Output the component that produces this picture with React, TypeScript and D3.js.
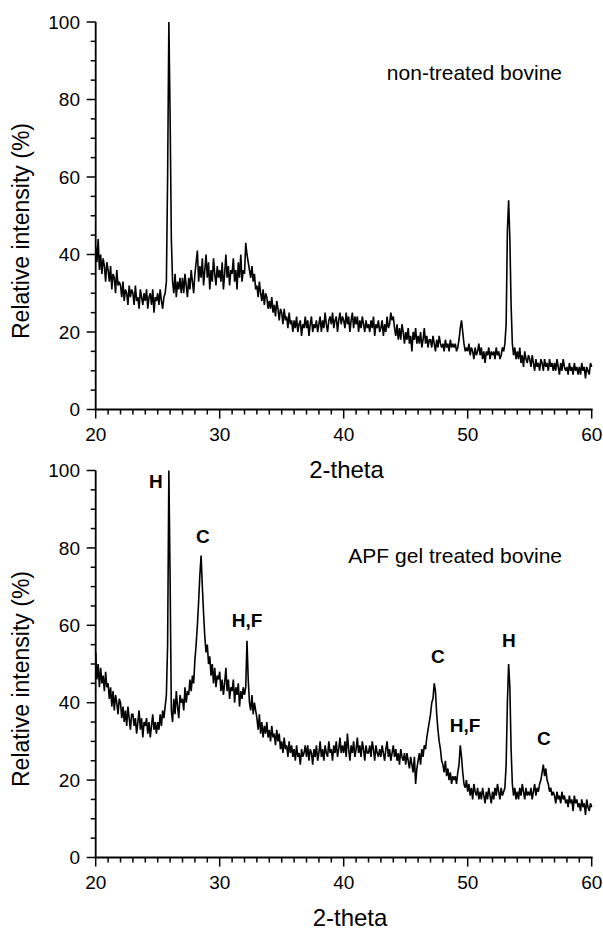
import React from 'react';
import * as d3 from 'd3';

const THETA_START = 20;
const THETA_STEP = 0.1;

// non-treated bovine, relative intensity (%) from 20.0 to 60.0 in 0.1 steps
const nonTreated: number[] = [
  42,38,44,36,40,35,39,37,33,38,
  36,33,37,31,35,34,30,36,32,33,
  32,29,33,28,31,30,27,32,29,31,
  30,27,32,28,29,26,31,29,27,30,
  28,31,26,29,30,27,31,25,29,28,
  30,27,31,28,26,29,30,33,60,100,
  76,44,33,30,35,29,33,31,34,30,
  34,30,35,32,29,34,31,36,33,30,
  35,38,41,33,37,34,39,32,36,40,
  34,38,31,36,33,39,35,32,37,34,
  36,33,38,31,35,40,34,37,32,36,
  35,39,33,36,31,38,34,40,33,36,
  35,43,40,38,36,34,37,33,35,31,
  32,29,33,30,28,31,27,30,29,26,
  28,26,29,25,27,24,28,26,23,26,
  25,22,26,23,24,21,25,22,23,20,
  23,21,24,20,22,23,19,22,21,24,
  21,23,19,22,24,20,22,21,23,20,
  22,24,20,23,21,25,22,20,23,24,
  22,25,21,23,24,20,23,25,22,24,
  23,21,25,22,24,20,23,25,21,24,
  22,24,20,23,21,24,22,20,23,21,
  22,20,23,21,24,19,22,21,23,20,
  21,23,19,22,20,24,21,22,25,23,
  24,21,19,22,18,21,18,22,20,17,
  20,18,21,17,19,15,20,18,21,17,
  19,17,20,16,18,21,17,19,16,18,
  18,16,19,17,15,18,16,19,17,16,
  17,15,18,16,17,15,18,16,17,16,
  17,15,16,18,21,23,20,17,15,16,
  15,17,14,16,15,13,16,14,15,17,
  14,16,13,15,12,15,14,16,13,15,
  14,15,13,16,14,15,13,14,16,15,
  17,22,46,54,44,27,17,14,16,13,
  15,13,16,12,14,11,15,13,12,14,
  13,11,14,12,10,13,11,12,10,13,
  12,10,13,11,12,10,13,11,12,10,
  12,10,13,11,9,12,10,13,11,10,
  11,9,12,10,11,9,12,10,11,9,
  11,9,12,10,11,8,11,10,9,12,
  11,
];

// APF gel treated bovine, relative intensity (%) from 20.0 to 60.0 in 0.1 steps
const apfTreated: number[] = [
  53,46,50,44,49,45,47,43,48,44,
  45,41,44,39,43,38,42,40,37,41,
  40,36,39,35,38,34,39,36,33,37,
  37,34,36,32,35,38,33,36,31,35,
  34,36,32,35,31,34,37,33,35,32,
  35,33,37,34,38,36,39,42,55,100,
  72,38,35,41,37,43,39,36,42,40,
  41,38,44,40,43,42,46,43,47,45,
  51,55,60,66,73,78,70,63,57,53,
  55,50,52,47,50,45,49,44,47,46,
  48,43,46,42,45,49,43,46,41,44,
  43,46,40,44,42,45,39,43,41,44,
  42,44,56,46,40,38,42,37,40,38,
  36,33,37,32,35,31,34,32,35,31,
  33,30,34,31,32,29,33,30,32,28,
  30,27,31,28,29,26,30,27,29,26,
  28,25,29,26,27,24,28,26,27,29,
  26,29,25,28,27,24,28,26,29,25,
  27,30,26,28,25,29,27,26,30,27,
  28,25,29,27,30,26,28,31,27,29,
  27,30,26,32,28,25,29,27,30,26,
  28,31,27,29,26,30,28,25,29,27,
  27,29,26,30,28,25,29,27,26,28,
  26,29,27,25,28,30,26,28,25,27,
  29,26,28,25,27,24,28,26,25,27,
  24,27,25,23,26,24,22,26,19,23,
  25,27,24,28,26,29,28,31,33,35,
  37,40,41,45,43,37,33,30,28,25,
  24,22,25,21,23,20,22,19,21,20,
  21,19,22,24,29,26,22,19,18,20,
  17,19,16,18,15,19,17,16,18,15,
  17,15,18,16,14,17,15,18,16,14,
  17,15,18,16,19,17,15,18,16,17,
  18,24,40,50,44,28,19,16,18,15,
  17,15,18,16,19,17,15,18,16,17,
  16,18,15,17,19,16,18,17,19,20,
  22,24,21,23,20,19,17,18,16,17,
  16,14,17,15,16,14,17,15,16,14,
  15,13,16,14,15,12,16,14,15,13,
  14,12,15,13,14,11,15,13,12,14,
  13,
];

const xTicks = [20, 30, 40, 50, 60];
const yTicks = [0, 20, 40, 60, 80, 100];
const xMinorTicks = d3.range(20, 61, 1);
const yMinorTicks = d3.range(0, 101, 5);

const peakLabels = ['H', 'C', 'H,F', 'C', 'H,F', 'H', 'C'];
const peakLabelTheta = [24.86, 28.65, 32.2, 47.6, 49.78, 53.33, 56.15];
const peakLabelLevel = [95.5, 81.3, 59.6, 50.3, 32.4, 54.4, 29.1];

const panelTitles = ['non-treated bovine', 'APF gel treated bovine'];
const xAxisLabel = '2-theta';
const yAxisLabel = 'Relative intensity (%)';

const FONT = '"Liberation Sans", Arial, Helvetica, sans-serif';
const X_LEFT = 95.7;
const X_RIGHT = 591.7;

type PanelProps = {
  values: number[];
  top: number;
  bottom: number;
  title: string;
  titleBaseline: number;
  xLabelX: number;
  xLabelBaseline: number;
  yLabelY: number;
  showPeaks?: boolean;
};

function Panel(p: PanelProps) {
  const x = d3.scaleLinear().domain([20, 60]).range([X_LEFT, X_RIGHT]);
  const y = d3.scaleLinear().domain([0, 100]).range([p.bottom, p.top]);
  const line = d3
    .line<number>()
    .x((_, i) => x(THETA_START + i * THETA_STEP))
    .y((v) => y(v));
  return (
    <g>
      <path d={line(p.values) || ''} fill="none" stroke="#000" strokeWidth={1.6} strokeLinejoin="miter" strokeMiterlimit={3} />
      {/* y axis */}
      <line x1={X_LEFT} x2={X_LEFT} y1={y(0)} y2={y(100)} stroke="#000" strokeWidth={1.8} />
      {yMinorTicks.map((t) => (
        <line key={'ym' + t} x1={X_LEFT - (t % 20 === 0 ? 9 : 5)} x2={X_LEFT} y1={y(t)} y2={y(t)} stroke="#000" strokeWidth={1.5} />
      ))}
      {yTicks.map((t) => (
        <text key={'yt' + t} x={80} y={y(t)} dy="0.35em" textAnchor="end" fontSize={19} fontFamily={FONT} fill="#000">
          {t}
        </text>
      ))}
      {/* x axis */}
      <line x1={X_LEFT - 0.9} x2={X_RIGHT + 0.9} y1={y(0)} y2={y(0)} stroke="#000" strokeWidth={1.8} />
      {xMinorTicks.map((t) => (
        <line key={'xm' + t} x1={x(t)} x2={x(t)} y1={y(0)} y2={y(0) + (t % 10 === 0 ? 9 : 5)} stroke="#000" strokeWidth={1.5} />
      ))}
      {xTicks.map((t) => (
        <text key={'xt' + t} x={x(t)} y={y(0) + 31} textAnchor="middle" fontSize={19} fontFamily={FONT} fill="#000">
          {t}
        </text>
      ))}
      <text x={p.xLabelX} y={p.xLabelBaseline} textAnchor="middle" fontSize={24} fontFamily={FONT} fill="#000">
        {xAxisLabel}
      </text>
      <text
        transform={`translate(28.5,${p.yLabelY}) rotate(-90)`}
        textAnchor="middle"
        fontSize={23}
        fontFamily={FONT}
        fill="#000"
      >
        {yAxisLabel}
      </text>
      <text x={562} y={p.titleBaseline} textAnchor="end" fontSize={21} fontFamily={FONT} fill="#000">
        {p.title}
      </text>
      {p.showPeaks &&
        peakLabels.map((l, i) => (
          <text
            key={'pk' + i}
            x={x(peakLabelTheta[i])}
            y={y(peakLabelLevel[i])}
            textAnchor="middle"
            fontSize={19}
            fontWeight="bold"
            fontFamily={FONT}
            fill="#000"
          >
            {l}
          </text>
        ))}
    </g>
  );
}

export default function App() {
  return (
    <svg
      width={603}
      height={930}
      viewBox="0 0 603 930"
      style={{ position: 'absolute', left: 0, top: 0, background: '#fff' }}
    >
      <rect width={603} height={930} fill="#fff" />
      <Panel
        values={nonTreated}
        top={22}
        bottom={409.5}
        title={panelTitles[0]}
        titleBaseline={80}
        xLabelX={346.5}
        xLabelBaseline={478}
        yLabelY={231}
      />
      <Panel
        values={apfTreated}
        top={470.5}
        bottom={857.5}
        title={panelTitles[1]}
        titleBaseline={563}
        xLabelX={350}
        xLabelBaseline={926}
        yLabelY={679}
        showPeaks
      />
    </svg>
  );
}
